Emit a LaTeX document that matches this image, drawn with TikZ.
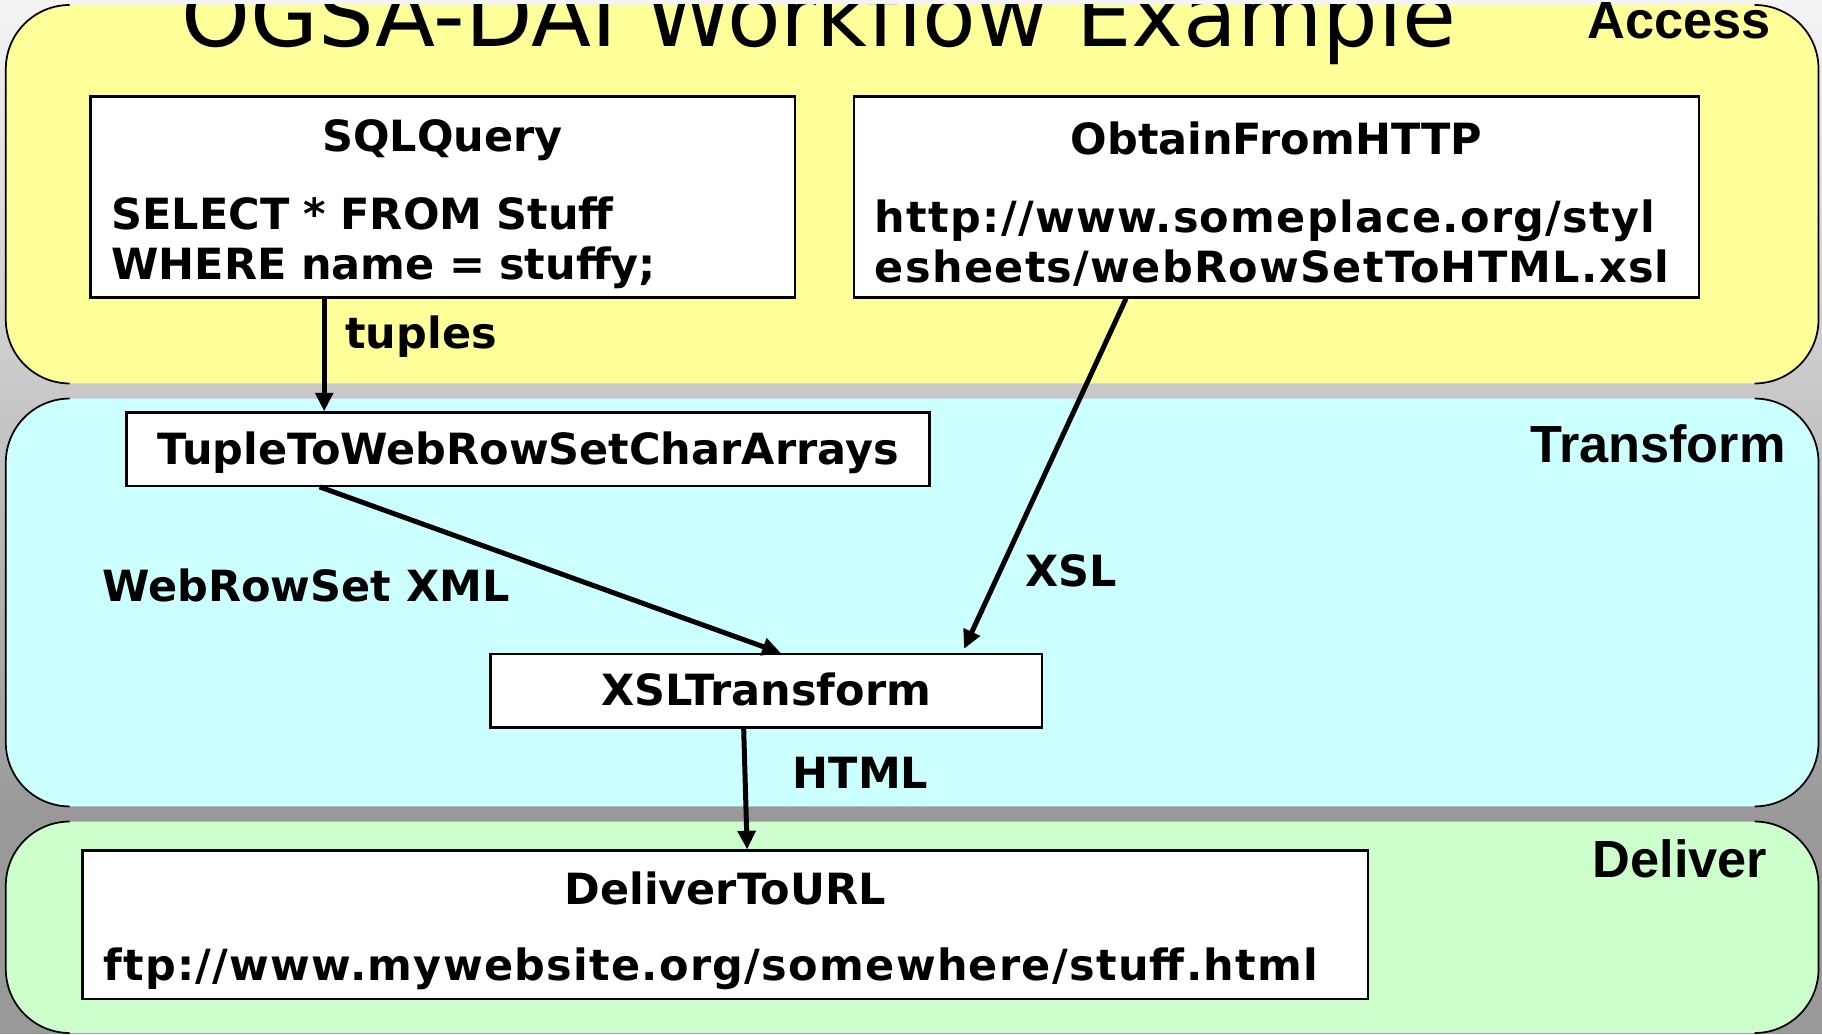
\documentclass[tikz,border=0pt]{standalone}
\usepackage{fontspec}
\usepackage{tikz}
\usetikzlibrary{arrows.meta,positioning}
\newfontfamily\flowfont{DejaVu Sans}
\newfontfamily\urlfont{DejaVu Sans}[LetterSpace=3]
\newfontfamily\lanefont{Liberation Sans}
\definecolor{accessyellow}{HTML}{FFFF99}
\definecolor{transformcyan}{HTML}{CCFFFF}
\definecolor{delivergreen}{HTML}{CCFFCC}
\definecolor{bgtop}{HTML}{F4F4F4}
\definecolor{bgbottom}{HTML}{999999}

\begin{document}
\begin{tikzpicture}[
  x=1pt, y=-1pt,
  activity/.style={draw=black, line width=2pt, fill=white, inner xsep=18pt, inner ysep=0pt,
                   font=\flowfont\bfseries\fontsize{37}{43}\selectfont},
  onebox/.style={activity, align=center, text height=26pt, text depth=0pt, minimum height=63pt},
  twobox/.style={activity, align=left, minimum height=#1},
  flowlabel/.style={inner sep=0pt, anchor=base west, font=\flowfont\bfseries\fontsize{37}{43}\selectfont},
  lanelabel/.style={inner sep=0pt, anchor=base east, font=\lanefont\bfseries\fontsize{45}{54}\selectfont},
  laneedge/.style={draw=black, line width=1.5pt, rounded corners=55pt},
  flow/.style={-{Triangle[length=16pt,width=15pt]}, line width=4.3pt, draw=black}
]
\useasboundingbox (0,0) rectangle (1568,890);
\shade[top color=bgtop, bottom color=bgbottom] (0,0) rectangle (1568,700);
\fill[bgbottom] (0,700) rectangle (1568,890);

% swim lanes
\foreach \ya/\yb/\lanecol in {4.3/330/accessyellow, 343/694/transformcyan, 707/889/delivergreen} {
  \fill[\lanecol, rounded corners=55pt] (5,\ya) rectangle (1565,\yb);
  \draw[laneedge] (60,\ya) -- (5,\ya) -- (5,\yb) -- (60,\yb);
  \draw[laneedge] (1510,\ya) -- (1565,\ya) -- (1565,\yb) -- (1510,\yb);
}

\begin{scope}
  \clip (0,4.3) rectangle (1568,200);
  \node[inner sep=0pt, anchor=base west, font=\flowfont\fontsize{75.5}{80}\selectfont] (title) at (156,40) {OGSA-DAI Workflow Example};
\end{scope}

\node[lanelabel] (accesslane) at (1524,33) {Access};
\node[lanelabel] (transformlane) at (1537,398) {Transform};
\node[lanelabel] (deliverlane) at (1521,755) {Deliver};

% activities
\node[twobox=173pt, text width=570pt] (sqlquery) at (381,169.5)
  {\hfill\rule{0pt}{40pt}SQLQuery\hfill\null\\[24pt]
   SELECT * FROM Stuff\\
   WHERE name = stuffy;};
\node[twobox=173pt, text width=691pt, right=49pt of sqlquery] (obtainhttp)
  {\hfill\rule{0pt}{40pt}ObtainFromHTTP\hfill\null\\[24pt]
   {\urlfont\bfseries http://www.someplace.org/styl}\\
   {\urlfont\bfseries esheets/webRowSetToHTML.xsl}};
\node[onebox, minimum width=691pt] (tuplearrays) at (454.5,386.5) {TupleToWebRowSetCharArrays};
\node[onebox, minimum width=475pt] (xsltransform) at (659.5,594.5) {XSLTransform};
\node[twobox=128pt, text width=1070pt] (delivertourl) at (624,796)
  {\hfill\rule{0pt}{38pt}DeliverToURL\hfill\null\\[22pt]
   {\urlfont\bfseries ftp://www.mywebsite.org/somewhere/stuff.html}};

% data flow
\draw[flow] ([xshift=-102pt]sqlquery.south) -- ([xshift=-102pt]sqlquery.south |- tuplearrays.north);
\draw[flow] ([xshift=-179.5pt]tuplearrays.south) -- ([xshift=12.5pt]xsltransform.north);
\draw[flow, shorten >=4pt] ([xshift=-129.5pt]obtainhttp.south) -- ([xshift=168.5pt]xsltransform.north);
\draw[flow] ([xshift=-19.5pt]xsltransform.south) -- ([xshift=19pt]delivertourl.north);

\node[flowlabel] (tupleslabel) at (297,300) {tuples};
\node[flowlabel] (webrowsetlabel) at (88,518) {WebRowSet XML};
\node[flowlabel] (xsllabel) at (882,505) {XSL};
\node[flowlabel] (htmllabel) at (682,679) {HTML};
\end{tikzpicture}
\end{document}
